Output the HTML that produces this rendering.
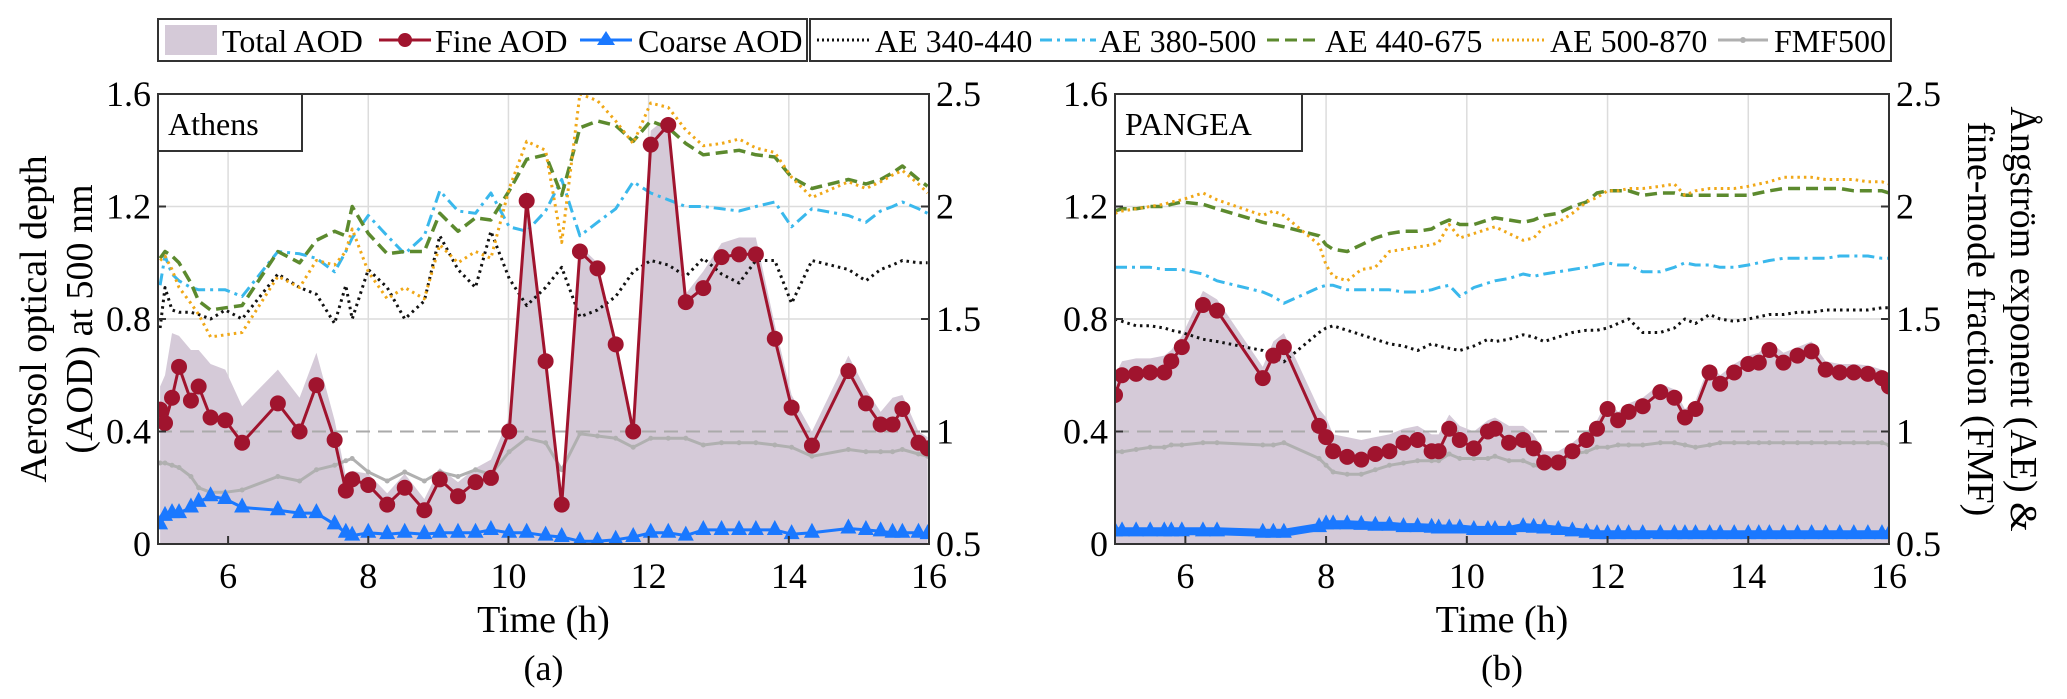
<!DOCTYPE html>
<html><head><meta charset="utf-8">
<style>
html,body{margin:0;padding:0;background:#fff;}
svg{display:block;}
svg text{font-family:"Liberation Serif","Times New Roman","DejaVu Serif",serif;}
</style></head>
<body>
<svg id="chart" width="2067" height="699" viewBox="0 0 2067 699" xmlns="http://www.w3.org/2000/svg">
  <g>
    <rect x="158" y="19" width="649" height="42" fill="#fff" stroke="#333" stroke-width="2"/>
    <rect x="165" y="25" width="52" height="30" fill="#d5cad8"/>
    <text x="222" y="52" font-size="32">Total AOD</text>
    <line x1="379" y1="40" x2="431" y2="40" stroke="#a0142e" stroke-width="3"/>
    <circle cx="405" cy="40" r="7" fill="#a0142e"/>
    <text x="435" y="52" font-size="32">Fine AOD</text>
    <line x1="580" y1="40" x2="632" y2="40" stroke="#1a78ff" stroke-width="3"/>
    <polygon points="606,31 615,45 597,45" fill="#1a78ff"/>
    <text x="638" y="52" font-size="32">Coarse AOD</text>
  </g>
  <g>
    <rect x="810" y="19" width="1081" height="42" fill="#fff" stroke="#333" stroke-width="2"/>
    <line x1="817" y1="40" x2="870" y2="40" stroke="#111" stroke-width="3" stroke-dasharray="2 3"/>
    <text x="875" y="52" font-size="32">AE 340-440</text>
    <line x1="1040" y1="40" x2="1096" y2="40" stroke="#3ab8ec" stroke-width="3" stroke-dasharray="12 5 3 5"/>
    <text x="1099" y="52" font-size="32">AE 380-500</text>
    <line x1="1267" y1="40" x2="1320" y2="40" stroke="#5c8a2e" stroke-width="3" stroke-dasharray="12 6"/>
    <text x="1325" y="52" font-size="32">AE 440-675</text>
    <line x1="1492" y1="40" x2="1544" y2="40" stroke="#f0a818" stroke-width="3" stroke-dasharray="2 3"/>
    <text x="1550" y="52" font-size="32">AE 500-870</text>
    <line x1="1718" y1="40" x2="1768" y2="40" stroke="#b0b0b0" stroke-width="3"/>
    <circle cx="1743" cy="40" r="3" fill="#b0b0b0"/>
    <text x="1774" y="52" font-size="32">FMF500</text>
  </g>
  <text transform="translate(46,319) rotate(-90)" text-anchor="middle" font-size="38">Aerosol optical depth</text>
  <text transform="translate(92,319) rotate(-90)" text-anchor="middle" font-size="38">(AOD) at 500 nm</text>
  <text transform="translate(2011,319) rotate(90)" text-anchor="middle" font-size="38">Ångström exponent (AE) &amp;</text>
  <text transform="translate(1968,319) rotate(90)" text-anchor="middle" font-size="38">fine-mode fraction (FMF)</text>
</svg>
<script>
// ---------- Athens data ----------
const athensTime = [5.03,5.1,5.2,5.3,5.47,5.58,5.75,5.96,6.2,6.71,7.02,7.26,7.52,7.68,7.77,8.0,8.27,8.52,8.8,9.02,9.28,9.53,9.75,10.01,10.26,10.53,10.76,11.02,11.27,11.53,11.78,12.03,12.28,12.53,12.78,13.04,13.29,13.53,13.8,14.04,14.33,14.85,15.1,15.31,15.48,15.62,15.85,15.98];
const athensTotal = [.56,.60,.75,.74,.69,.69,.64,.62,.49,.62,.52,.68,.44,.24,.26,.25,.18,.25,.16,.27,.22,.27,.30,.45,1.26,.69,.17,1.06,1.00,.73,.43,1.47,1.52,.89,.97,1.07,1.09,1.09,.78,.53,.40,.67,.55,.47,.52,.53,.40,.38];
const athensFine = [.478,.43,.52,.63,.51,.56,.45,.44,.36,.50,.40,.565,.37,.19,.23,.21,.14,.20,.12,.23,.17,.22,.235,.40,1.22,.65,.14,1.04,.98,.71,.40,1.42,1.49,.86,.91,1.02,1.03,1.03,.73,.485,.35,.615,.50,.425,.425,.48,.36,.34];
const athensCoarse = [.07,.10,.11,.11,.13,.15,.17,.16,.13,.12,.11,.11,.07,.04,.03,.04,.035,.04,.035,.04,.04,.04,.05,.04,.04,.03,.025,.01,.01,.015,.025,.04,.04,.03,.05,.05,.05,.05,.05,.035,.04,.055,.05,.045,.04,.04,.04,.035];
const athensFMF = [.86,.86,.85,.84,.80,.75,.73,.73,.74,.80,.78,.83,.85,.87,.88,.82,.78,.82,.78,.82,.80,.83,.81,.91,.97,.95,.83,.99,.98,.97,.93,.97,.97,.97,.94,.95,.95,.95,.94,.93,.89,.92,.91,.91,.91,.92,.90,.89];
const athensAE340 = [1.46,1.64,1.54,1.53,1.53,1.52,1.50,1.54,1.50,1.70,1.64,1.61,1.48,1.65,1.50,1.72,1.64,1.50,1.58,1.87,1.72,1.64,1.89,1.68,1.56,1.64,1.73,1.51,1.54,1.60,1.71,1.76,1.74,1.69,1.77,1.70,1.66,1.76,1.76,1.57,1.76,1.72,1.67,1.72,1.74,1.76,1.75,1.75];
const athensAE380 = [1.65,1.78,1.70,1.67,1.64,1.63,1.63,1.63,1.60,1.80,1.79,1.77,1.71,1.80,1.86,1.96,1.87,1.79,1.87,2.07,1.98,1.97,2.06,1.91,1.89,1.98,2.12,1.87,1.93,1.99,2.11,2.06,2.03,2.00,2.00,1.99,1.98,2.00,2.02,1.91,1.99,1.96,1.93,1.98,2.00,2.02,1.99,1.97];
const athensAE440 = [1.77,1.80,1.78,1.75,1.66,1.58,1.54,1.55,1.56,1.80,1.75,1.85,1.89,1.87,2.00,1.88,1.79,1.80,1.80,1.97,1.89,1.95,1.94,2.07,2.21,2.23,2.05,2.35,2.38,2.36,2.29,2.38,2.35,2.28,2.23,2.24,2.25,2.23,2.22,2.13,2.08,2.12,2.10,2.12,2.15,2.18,2.12,2.09];
const athensAE500 = [1.76,1.78,1.72,1.64,1.57,1.52,1.42,1.43,1.44,1.69,1.64,1.76,1.74,1.80,1.90,1.71,1.59,1.64,1.59,1.83,1.75,1.80,1.77,2.08,2.29,2.25,1.84,2.50,2.47,2.38,2.28,2.46,2.44,2.34,2.27,2.28,2.30,2.26,2.24,2.13,2.04,2.11,2.08,2.11,2.14,2.16,2.10,2.06];
// ---------- PANGEA data ----------
const pangeaTime = [5.0,5.1,5.3,5.5,5.7,5.8,5.95,6.25,6.45,7.1,7.25,7.4,7.9,8.0,8.1,8.3,8.5,8.7,8.9,9.1,9.3,9.5,9.6,9.75,9.9,10.1,10.3,10.4,10.6,10.8,10.95,11.1,11.3,11.5,11.7,11.85,12.0,12.15,12.3,12.5,12.75,12.95,13.1,13.25,13.45,13.6,13.8,14.0,14.15,14.3,14.5,14.7,14.9,15.1,15.3,15.5,15.7,15.9,16.0];
const pangeaTotal = [.60,.65,.66,.66,.67,.69,.74,.90,.87,.63,.72,.75,.48,.45,.39,.38,.37,.38,.39,.41,.42,.39,.39,.46,.42,.40,.44,.45,.42,.42,.39,.33,.33,.36,.40,.44,.51,.47,.50,.52,.57,.55,.48,.51,.64,.60,.64,.67,.68,.72,.68,.70,.72,.65,.64,.64,.635,.62,.59];
const pangeaFine = [.53,.60,.605,.61,.61,.65,.70,.85,.83,.59,.67,.70,.42,.38,.33,.31,.30,.32,.33,.36,.37,.33,.33,.41,.37,.34,.40,.41,.36,.37,.34,.29,.29,.33,.37,.41,.48,.44,.47,.49,.54,.52,.45,.48,.61,.57,.61,.64,.645,.69,.645,.67,.685,.62,.61,.61,.605,.59,.56];
const pangeaCoarse = [.045,.045,.045,.045,.045,.045,.045,.045,.045,.04,.04,.04,.06,.07,.07,.07,.068,.065,.065,.06,.06,.058,.055,.055,.055,.05,.05,.05,.05,.06,.058,.055,.05,.045,.04,.035,.035,.035,.035,.035,.035,.035,.035,.035,.035,.035,.035,.035,.035,.035,.035,.035,.035,.035,.035,.035,.035,.035,.035];
const pangeaFMF = [.91,.91,.92,.93,.93,.94,.94,.95,.95,.94,.94,.95,.88,.85,.82,.81,.81,.83,.85,.86,.87,.87,.87,.90,.88,.88,.88,.89,.87,.87,.85,.84,.85,.90,.91,.93,.93,.94,.94,.94,.95,.95,.94,.93,.94,.95,.95,.95,.95,.95,.95,.95,.95,.95,.95,.95,.95,.95,.94];
const pangeaAE340 = [1.50,1.49,1.47,1.47,1.46,1.45,1.44,1.41,1.40,1.36,1.33,1.31,1.44,1.46,1.47,1.45,1.43,1.41,1.39,1.38,1.36,1.39,1.38,1.37,1.36,1.38,1.41,1.40,1.41,1.43,1.42,1.40,1.42,1.44,1.45,1.45,1.46,1.48,1.50,1.44,1.44,1.46,1.50,1.48,1.52,1.50,1.49,1.50,1.51,1.52,1.52,1.53,1.53,1.54,1.54,1.54,1.54,1.55,1.55];
const pangeaAE380 = [1.73,1.73,1.73,1.73,1.72,1.72,1.72,1.70,1.67,1.62,1.60,1.57,1.64,1.65,1.65,1.63,1.63,1.63,1.63,1.62,1.62,1.63,1.64,1.65,1.60,1.64,1.66,1.67,1.68,1.70,1.69,1.70,1.71,1.72,1.73,1.74,1.75,1.74,1.74,1.71,1.71,1.73,1.75,1.74,1.74,1.73,1.73,1.74,1.75,1.76,1.77,1.77,1.77,1.77,1.78,1.78,1.78,1.77,1.77];
const pangeaAE440 = [1.98,1.99,1.99,2.00,2.00,2.01,2.02,2.01,1.99,1.93,1.92,1.91,1.87,1.83,1.81,1.80,1.83,1.86,1.88,1.89,1.89,1.90,1.92,1.94,1.92,1.92,1.94,1.95,1.94,1.93,1.94,1.96,1.97,2.00,2.02,2.06,2.07,2.07,2.07,2.05,2.06,2.06,2.05,2.05,2.05,2.05,2.05,2.05,2.06,2.07,2.08,2.08,2.08,2.08,2.08,2.07,2.07,2.07,2.06];
const pangeaAE500 = [1.97,1.98,1.99,2.00,2.01,2.02,2.03,2.06,2.03,1.96,1.98,1.96,1.83,1.74,1.69,1.67,1.72,1.73,1.80,1.81,1.82,1.83,1.84,1.92,1.86,1.88,1.90,1.91,1.88,1.85,1.86,1.91,1.93,1.97,2.02,2.04,2.07,2.07,2.08,2.08,2.09,2.10,2.05,2.07,2.08,2.08,2.08,2.09,2.10,2.11,2.13,2.13,2.13,2.12,2.12,2.12,2.11,2.11,2.10];
// ---------- ticks ----------
const xTicks = [6,8,10,12,14,16];
const yLeftTicks = [0,0.4,0.8,1.2,1.6];
const yLeftLabels = ["0","0.4","0.8","1.2","1.6"];
const yRightTicks = [0.5,1,1.5,2,2.5];
const yRightLabels = ["0.5","1","1.5","2","2.5"];

const NS = "http://www.w3.org/2000/svg";
const svg = document.getElementById('chart');
function mk(tag, attrs, parent){
  const e = document.createElementNS(NS, tag);
  for (const k in attrs) e.setAttribute(k, attrs[k]);
  parent.appendChild(e);
  return e;
}

function drawPanel(p){
  const L=p.left, R=p.right, T=94, B=544;
  const xs = t => L + (t-5)/11*(R-L);
  const yl = v => B - v/1.6*(B-T);
  const yr = a => B - (a-0.5)/2*(B-T);
  const g = mk('g', {}, svg);
  
  
  const clipId = 'clip-' + p.name;
  const cp = mk('clipPath', {id: clipId}, g);
  mk('rect', {x:L, y:T, width:R-L, height:B-T}, cp);
  xTicks.forEach(t => {
    const gl = mk('line', {x1:xs(t), y1:T, x2:xs(t), y2:B, stroke:'#dcdcdc', 'stroke-width':1.5}, g);
    
    
  });
  yLeftTicks.forEach(v => {
    if (v===0.4) return;
    const gl = mk('line', {x1:L, y1:yl(v), x2:R, y2:yl(v), stroke:'#dcdcdc', 'stroke-width':1.5}, g);
    
    
  });
  const inner = mk('g', {'clip-path':'url(#'+clipId+')'}, g);
  let d = 'M' + xs(p.time[0]) + ',' + yl(0);
  p.time.forEach((t,i) => { d += ' L' + xs(t) + ',' + yl(p.total[i]); });
  d += ' L' + xs(p.time[p.time.length-1]) + ',' + yl(0) + ' Z';
  const area = mk('path', {d:d, fill:'#d5cad8'}, inner);
  
  
  const ref = mk('line', {x1:L, y1:yr(1), x2:R, y2:yr(1), stroke:'#aaaaaa', 'stroke-width':2, 'stroke-dasharray':'14 8'}, inner);
  
  
  const line = (arr, yf, style, name) => {
    const pts = p.time.map((t,i) => xs(t).toFixed(1) + ',' + yf(arr[i]).toFixed(1)).join(' ');
    const pl = mk('polyline', Object.assign({points:pts, fill:'none', 'stroke-linejoin':'round'}, style), inner);
    
    
    return pl;
  };
  line(p.fmf, yr, {stroke:'#b0b0b0', 'stroke-width':3}, 'fmf500-line');
  p.time.forEach((t,i) => {
    const c = mk('circle', {cx:xs(t), cy:yr(p.fmf[i]), r:2.5, fill:'#b0b0b0'}, inner);
    
    
  });
  line(p.ae340, yr, {stroke:'#111', 'stroke-width':3, 'stroke-dasharray':'2.5 4'}, 'ae-340-440-line');
  line(p.ae380, yr, {stroke:'#3ab8ec', 'stroke-width':3, 'stroke-dasharray':'12 5 3 5'}, 'ae-380-500-line');
  line(p.ae440, yr, {stroke:'#5c8a2e', 'stroke-width':3.5, 'stroke-dasharray':'12 6'}, 'ae-440-675-line');
  line(p.ae500, yr, {stroke:'#f0a818', 'stroke-width':3, 'stroke-dasharray':'2.5 4'}, 'ae-500-870-line');
  line(p.coarse, yl, {stroke:'#1a78ff', 'stroke-width':p.thick ? 8 : 3}, 'coarse-aod-line');
  p.time.forEach((t,i) => {
    const x = xs(t), y = yl(p.coarse[i]);
    const tri = mk('polygon', {points:(x)+','+(y-10)+' '+(x+8)+','+(y+5)+' '+(x-8)+','+(y+5), fill:'#1a78ff'}, inner);
    
    
  });
  line(p.fine, yl, {stroke:'#a0142e', 'stroke-width':3}, 'fine-aod-line');
  p.time.forEach((t,i) => {
    const c = mk('circle', {cx:xs(t), cy:yl(p.fine[i]), r:8, fill:'#a0142e'}, inner);
    
    
  });
  const box = mk('rect', {x:L, y:T, width:R-L, height:B-T, fill:'none', stroke:'#333', 'stroke-width':2}, g);
  
  
  xTicks.forEach(t => {
    mk('line', {x1:xs(t), y1:B, x2:xs(t), y2:B-8, stroke:'#333', 'stroke-width':2}, g);
    const tx = mk('text', {x:xs(t), y:B+44, 'text-anchor':'middle', 'font-size':36}, g);
    tx.textContent = t;
    
    
  });
  yLeftTicks.forEach((v,i) => {
    mk('line', {x1:L, y1:yl(v), x2:L+8, y2:yl(v), stroke:'#333', 'stroke-width':2}, g);
    const tx = mk('text', {x:L-7, y:yl(v)+12, 'text-anchor':'end', 'font-size':36}, g);
    tx.textContent = yLeftLabels[i];
    
    
  });
  yRightTicks.forEach((v,i) => {
    mk('line', {x1:R, y1:yr(v), x2:R-8, y2:yr(v), stroke:'#333', 'stroke-width':2}, g);
    const tx = mk('text', {x:R+7, y:yr(v)+12, 'text-anchor':'start', 'font-size':36}, g);
    tx.textContent = yRightLabels[i];
    
    
  });
  const xt = mk('text', {x:(L+R)/2, y:632, 'text-anchor':'middle', 'font-size':38}, g);
  xt.textContent = 'Time (h)';
  
  
  const cap = mk('text', {x:(L+R)/2, y:680, 'text-anchor':'middle', 'font-size':36}, g);
  cap.textContent = p.caption;
  
  
  const lb = mk('rect', {x:L, y:T, width:p.boxW, height:57, fill:'#fff', stroke:'#333', 'stroke-width':2}, g);
  
  
  const lt = mk('text', {x:L+10, y:T+41, 'font-size':32}, g);
  lt.textContent = p.site;
  
  
}

drawPanel({name:'athens', left:158, right:929, time:athensTime, total:athensTotal, fine:athensFine, coarse:athensCoarse, fmf:athensFMF, ae340:athensAE340, ae380:athensAE380, ae440:athensAE440, ae500:athensAE500, caption:'(a)', site:'Athens', boxW:144, thick:false});
drawPanel({name:'pangea', left:1115, right:1889, time:pangeaTime, total:pangeaTotal, fine:pangeaFine, coarse:pangeaCoarse, fmf:pangeaFMF, ae340:pangeaAE340, ae380:pangeaAE380, ae440:pangeaAE440, ae500:pangeaAE500, caption:'(b)', site:'PANGEA', boxW:187, thick:true});
</script>
</body></html>
